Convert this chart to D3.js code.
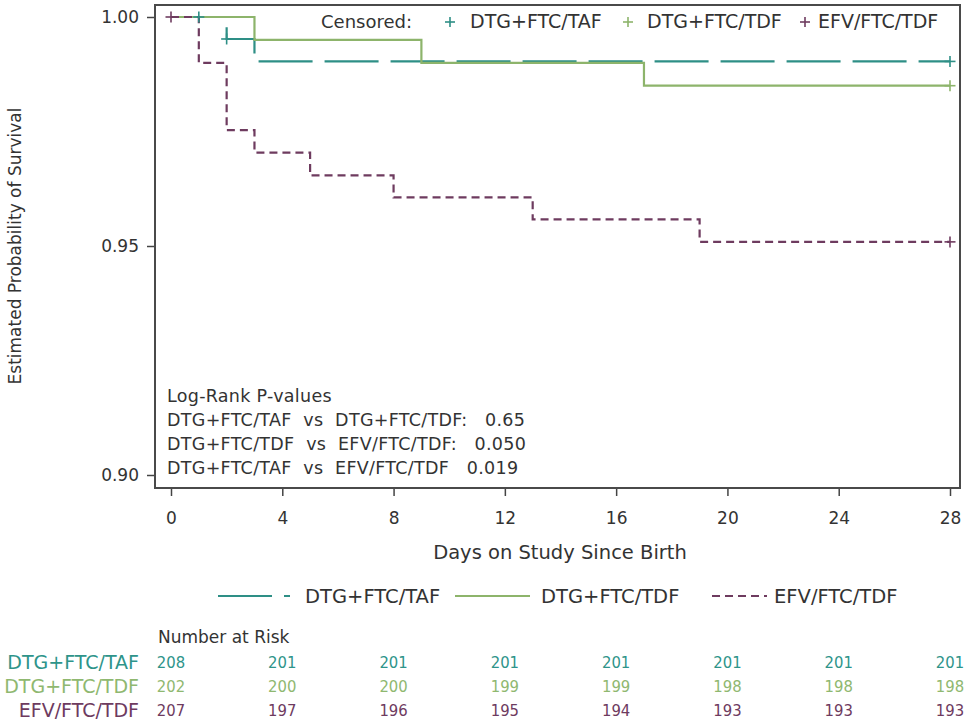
<!DOCTYPE html>
<html><head><meta charset="utf-8">
<script src="https://cdn.jsdelivr.net/npm/d3@7"></script>
<style>
body{margin:0;background:#fff;}
text{font-family:"DejaVu Sans",sans-serif;fill:#333;}
</style></head>
<body><svg id="c" width="967" height="724"></svg>
<script>
// ---- data ----
const groups = ["DTG+FTC/TAF", "DTG+FTC/TDF", "EFV/FTC/TDF"];
const tafTimes = [0, 2, 3];
const tafSurv  = [1.0, 0.9952, 0.9903];
const tdfTimes = [0, 3, 9, 17];
const tdfSurv  = [1.0, 0.995, 0.990, 0.985];
const efvTimes = [0, 1, 2, 3, 5, 8, 13, 19];
const efvSurv  = [1.0, 0.990, 0.9753, 0.9704, 0.9654, 0.9606, 0.9558, 0.9509];
const tafCensT = [1, 2, 28];
const tafCensS = [1.0, 0.9952, 0.9903];
const tdfCensT = [28];
const tdfCensS = [0.985];
const efvCensT = [0, 28];
const efvCensS = [1.0, 0.9509];
const xTicks = [0, 4, 8, 12, 16, 20, 24, 28];
const yTicks = [0.90, 0.95, 1.00];
const riskTAF = [208, 201, 201, 201, 201, 201, 201, 201];
const riskTDF = [202, 200, 200, 199, 199, 198, 198, 198];
const riskEFV = [207, 197, 196, 195, 194, 193, 193, 193];
const pLines = ["Log-Rank P-values",
  "DTG+FTC/TAF  vs  DTG+FTC/TDF:   0.65",
  "DTG+FTC/TDF  vs  EFV/FTC/TDF:   0.050",
  "DTG+FTC/TAF  vs  EFV/FTC/TDF   0.019"];

const colors = ["#2e8f86", "#8db46b", "#6e3b5f"];
const dashes = ["54,12", null, "8,5"];

const svg = d3.select("#c");
const L = 155, R = 960, T = 5, B = 488;
const x = d3.scaleLinear().domain([0, 28]).range([171, 950]);
const y = d3.scaleLinear().domain([0.90, 1.00]).range([475, 17]);

// axes
const yAx = svg.append("g").attr("transform", `translate(${L},0)`)
  .call(d3.axisLeft(y).tickValues(yTicks).tickFormat(d3.format(".2f")).tickSize(8).tickSizeOuter(0));
yAx.select(".domain").remove();
yAx.selectAll("line").attr("stroke", "#444").attr("stroke-width", 1.5);
yAx.selectAll("text").attr("font-size", 17).attr("fill", "#333").attr("x", -16)
  .style("font-family", '"DejaVu Sans",sans-serif');

const xAx = svg.append("g").attr("transform", `translate(0,${B})`)
  .call(d3.axisBottom(x).tickValues(xTicks).tickSize(8).tickSizeOuter(0));
xAx.select(".domain").remove();
xAx.selectAll("line").attr("stroke", "#444").attr("stroke-width", 1.5);
xAx.selectAll("text").attr("font-size", 17).attr("fill", "#333").attr("y", 24)
  .style("font-family", '"DejaVu Sans",sans-serif');

// frame
svg.append("rect").attr("x", L).attr("y", T).attr("width", R - L).attr("height", B - T)
  .attr("fill", "none").attr("stroke", "#4a4a4a").attr("stroke-width", 2);

// axis titles
svg.append("text").attr("transform", "translate(21,246) rotate(-90)")
  .attr("text-anchor", "middle").attr("font-size", 17).text("Estimated Probability of Survival");
svg.append("text").attr("x", 560).attr("y", 559).attr("text-anchor", "middle")
  .attr("font-size", 19.5).text("Days on Study Since Birth");

// step curves
const curves = [[tafTimes, tafSurv], [tdfTimes, tdfSurv], [efvTimes, efvSurv]];
const cens = [[tafCensT, tafCensS], [tdfCensT, tdfCensS], [efvCensT, efvCensS]];
const line = d3.line().x(d => x(d[0])).y(d => y(d[1])).curve(d3.curveStepAfter);
curves.forEach(([t, s], i) => {
  const pts = t.map((d, j) => [d, s[j]]);
  pts.push([28, s[s.length - 1]]);
  const p = svg.append("path").attr("d", line(pts)).attr("fill", "none")
    .attr("stroke", colors[i]).attr("stroke-width", 2.2);
  if (dashes[i]) p.attr("stroke-dasharray", dashes[i]);
});
// censor marks
const plus = (g, cx, cy, c, s) => {
  g.append("line").attr("x1", cx - s).attr("x2", cx + s).attr("y1", cy).attr("y2", cy).attr("stroke", c).attr("stroke-width", 1.6);
  g.append("line").attr("x1", cx).attr("x2", cx).attr("y1", cy - s).attr("y2", cy + s).attr("stroke", c).attr("stroke-width", 1.6);
};
const cg = svg.append("g");
cens.forEach(([t, s], i) => t.forEach((d, j) => plus(cg, x(d), y(s[j]), colors[i], 5.5)));

// censored legend (top)
svg.append("text").attr("x", 321).attr("y", 28).attr("font-size", 18).text("Censored:");
const cPos = [[450, 470], [628, 647], [805, 818]];
groups.forEach((g, i) => {
  plus(svg, cPos[i][0], 22, colors[i], 5);
  svg.append("text").attr("x", cPos[i][1]).attr("y", 28).attr("font-size", 19).text(g);
});

// p-values
pLines.forEach((t, i) => svg.append("text").attr("x", 167).attr("y", 402 + i * 24)
  .attr("font-size", 17.5).attr("letter-spacing", 0.3).style("white-space", "pre").text(t));

// bottom legend
const lg = [[218, 290, 305], [455, 530, 541], [712, 767, 774]];
groups.forEach((g, i) => {
  const l = svg.append("line").attr("x1", lg[i][0]).attr("x2", lg[i][1]).attr("y1", 596).attr("y2", 596)
    .attr("stroke", colors[i]).attr("stroke-width", 2.2);
  if (dashes[i]) l.attr("stroke-dasharray", dashes[i]);
  svg.append("text").attr("x", lg[i][2]).attr("y", 603).attr("font-size", 19.5).text(g);
});

// number at risk
svg.append("text").attr("x", 158).attr("y", 643).attr("font-size", 17).text("Number at Risk");
const risks = [riskTAF, riskTDF, riskEFV];
const labColors = ["#2e948a", "#8fb870", "#6e3b5f"];
risks.forEach((r, i) => {
  const yy = 669 + i * 24;
  svg.append("text").attr("x", 139).attr("y", yy).attr("text-anchor", "end")
    .attr("font-size", 19).style("fill", labColors[i]).text(groups[i]);
  r.forEach((v, j) => svg.append("text").attr("x", x(xTicks[j])).attr("y", yy - 1)
    .attr("text-anchor", "middle").attr("font-size", 16.5)
    .style("font-family", '"Liberation Sans Narrow","DejaVu Sans Condensed",sans-serif')
    .style("fill", labColors[i]).text(v));
});
</script></body></html>
